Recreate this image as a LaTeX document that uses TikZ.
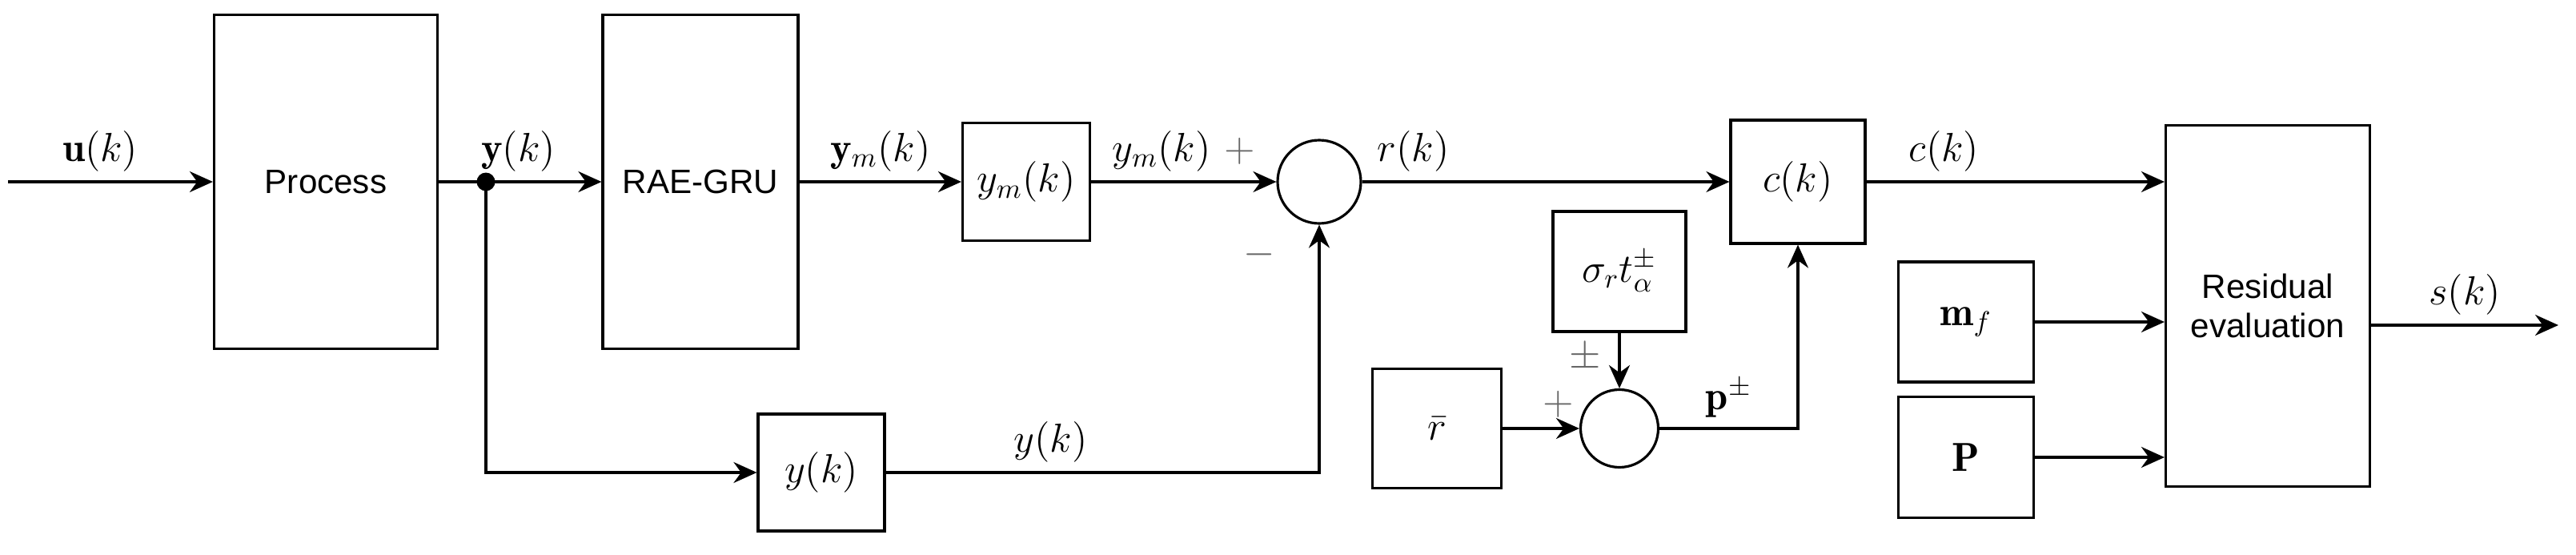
\documentclass[tikz,border=0pt]{standalone}
\usepackage{fontspec}
\usepackage{xcolor}
\usepackage{tikz}
\usepackage{amssymb}
\usetikzlibrary{arrows.meta}
\newfontfamily\arialfont{Liberation Sans}

\begin{document}
\begin{tikzpicture}[>={Stealth[length=2.9mm,width=2.6mm]}, line width=0.9pt, font=\Large,
	block/.style={draw, inner sep=0pt},
	sum/.style={draw, circle, inner sep=0pt, minimum size=1.04cm},
	sign/.style={text=black!60}]
	\useasboundingbox (0,0) rectangle (32.18,6.92);
	\node[block, minimum width=2.79cm, minimum height=4.17cm, font=\large\arialfont] at (4.07,4.65) (1) {Process};
	\node[block, minimum width=2.44cm, minimum height=4.17cm, font=\large\arialfont] at (8.75,4.65) (2) {RAE-GRU};
	\node[block, minimum width=1.59cm, minimum height=1.47cm] at (12.82,4.65) (3) {$y_m(k)$};
	\node[sum] at (16.48,4.65) (4) {};
	\node[block, minimum width=1.58cm, minimum height=1.46cm] at (10.26,1.02) (5) {$y(k)$};
	\node[block, minimum width=1.68cm, minimum height=1.54cm] at (22.46,4.65) (6) {$c(k)$};
	\node[block, minimum width=1.66cm, minimum height=1.50cm] at (20.23,3.53) (7) {$\sigma_r t_\alpha^{\pm}$};
	\node[block, minimum width=1.61cm, minimum height=1.49cm] at (17.95,1.57) (8) {$\bar{r}$};
	\node[sum, minimum size=0.97cm] at (20.23,1.57) (9) {};
	\node[block, minimum width=1.69cm, minimum height=1.50cm] at (24.56,2.90) (10) {$\mathbf{m}_f$};
	\node[block, minimum width=1.69cm, minimum height=1.51cm] at (24.56,1.21) (11) {$\mathbf{P}$};
	\node[block, minimum width=2.55cm, minimum height=4.51cm, align=center, font=\large\arialfont] at (28.33,3.10) (12) {Residual\\evaluation};
	\coordinate (13) at (0.10,4.65);
	\coordinate (14) at (6.07,4.65);
	\coordinate (15) at (31.96,2.86);
	\fill (14) circle (0.115);
	\draw[->] (13) to node[above, pos=0.45]{$\mathbf{u}(k)$} (1);
	\draw (1) to (14);
	\draw[->] (14) to node[above, pos=0.28]{$\mathbf{y}(k)$} (2);
	\draw[->] (2) to node[above]{$\mathbf{y}_m(k)$} (3);
	\draw[->] (3) to node[above]{$y_m(k)$ {\color{black!60}$+$}} (4);
	\draw[->] (4) to node[above, pos=0.14]{$r(k)$} (6);
	\draw[->] (14) |- (5);
	\draw[->] (5) -| node[above, pos=0.19]{$y(k)$} node[sign, left=0.42cm, pos=0.94]{$-$} (4);
	\draw[->] (8) to node[sign, above, pos=0.73]{$+$} (9);
	\draw[->] (7) to node[sign, left=0.1cm, pos=0.45]{$\pm$} (9);
	\draw[->] (9) -| node[above, pos=0.25]{$\mathbf{p}^{\pm}$} (6);
	\draw[->] (6) to node[above, pos=0.26]{$c(k)$} (6 -| 12.west);
	\draw[->] (10) to (10 -| 12.west);
	\draw[->] (11) to (11 -| 12.west);
	\draw[->] (12.east |- 15) to node[above]{$s(k)$} (15);
\end{tikzpicture}
\end{document}
